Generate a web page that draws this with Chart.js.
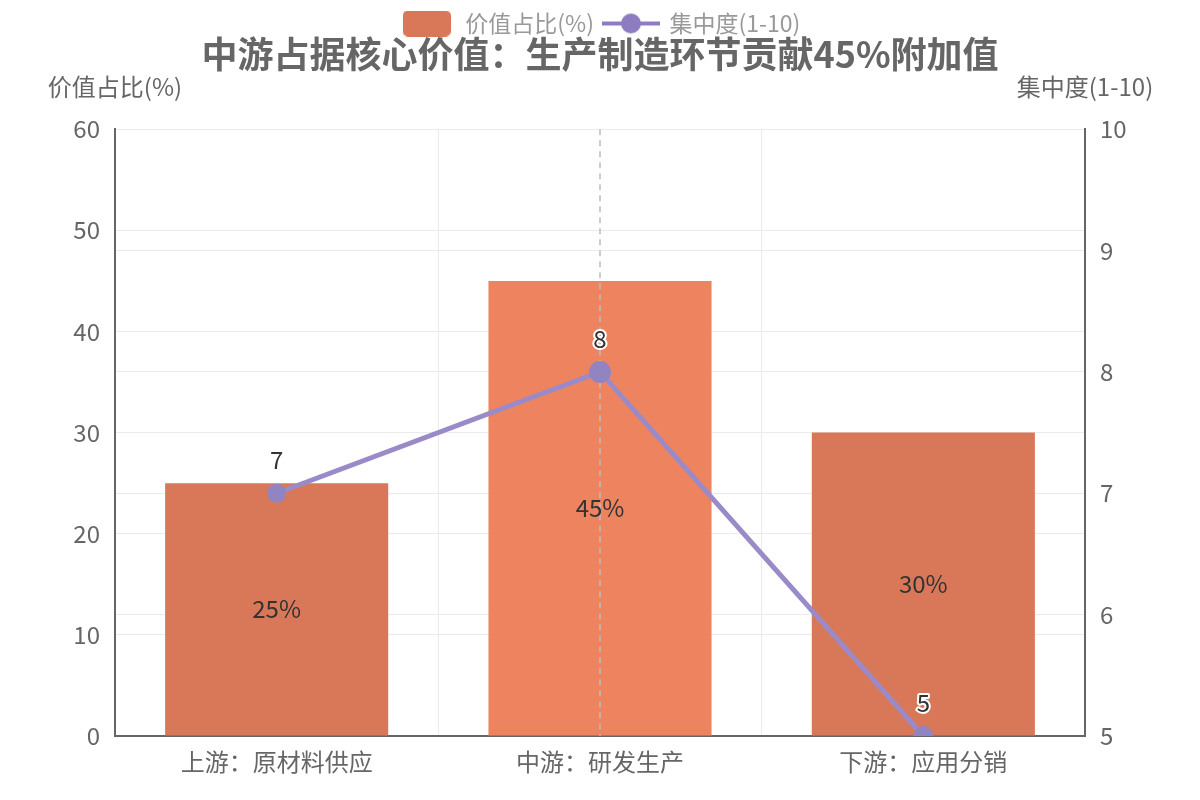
<!DOCTYPE html>
<html>
<head>
<meta charset="utf-8">
<script src="https://cdn.jsdelivr.net/npm/chart.js@4.4.0/dist/chart.umd.min.js"></script>
<style>
  html, body { margin: 0; padding: 0; background: #fff; }
</style>
</head>
<body>
<canvas id="chart" width="1200" height="800"></canvas>
<script>
const categories = ['上游：原材料供应', '中游：研发生产', '下游：应用分销'];
const valueShare = [25, 45, 30];
const concentration = [7, 8, 5];
const leftAxisRange = [0, 60, 10];
const rightAxisRange = [5, 10, 1];

const FONT = '"Noto Sans CJK SC", "Noto Sans", sans-serif';
Chart.defaults.font.family = FONT;

// legend icons
function makeIcon(w, h, draw) {
    const c = document.createElement('canvas');
    c.width = w; c.height = h;
    draw(c.getContext('2d'));
    return c;
}
const barIcon = makeIcon(48, 26, function(g) {
    g.fillStyle = '#d97858';
    g.beginPath();
    g.roundRect(0, 0, 48, 26, 5);
    g.fill();
});
const lineIcon = makeIcon(58, 22, function(g) {
    g.strokeStyle = '#8e7cc0';
    g.lineWidth = 4;
    g.beginPath(); g.moveTo(0, 11); g.lineTo(58, 11); g.stroke();
    g.fillStyle = '#8e7cc0';
    g.beginPath(); g.arc(29, 11, 10, 0, Math.PI * 2); g.fill();
});

const extras = {
    id: 'extras',
    afterDatasetDraw(chart, args) {
        // dashed axis pointer on the middle category, over bars, under the line
        if (args.index !== 0) return;
        const x = chart.scales.x.getPixelForValue(1);
        const a = chart.chartArea;
        const ctx = chart.ctx;
        ctx.save();
        ctx.strokeStyle = '#bdbdbd';
        ctx.lineWidth = 1.5;
        ctx.setLineDash([6, 5]);
        ctx.beginPath(); ctx.moveTo(x, a.top); ctx.lineTo(x, a.bottom); ctx.stroke();
        ctx.restore();
    },
    afterDatasetsDraw(chart) {
        const ctx = chart.ctx;
        ctx.save();
        ctx.font = '24px ' + FONT;
        ctx.textAlign = 'center';
        ctx.textBaseline = 'middle';
        chart.getDatasetMeta(0).data.forEach(function(bar, i) {
            ctx.fillStyle = '#333';
            ctx.fillText(valueShare[i] + '%', bar.x, (bar.y + bar.base) / 2);
        });
        chart.getDatasetMeta(1).data.forEach(function(pt, i) {
            ctx.lineWidth = 4;
            ctx.strokeStyle = '#fff';
            ctx.lineJoin = 'round';
            ctx.strokeText(String(concentration[i]), pt.x, pt.y - 33);
            ctx.fillStyle = '#333';
            ctx.fillText(String(concentration[i]), pt.x, pt.y - 33);
        });
        ctx.restore();
    },
    afterDraw(chart) {
        const ctx = chart.ctx;
        const a = chart.chartArea;
        ctx.save();
        ctx.font = '24px ' + FONT;
        ctx.fillStyle = '#666';
        ctx.textAlign = 'center';
        ctx.textBaseline = 'middle';
        ctx.fillText('价值占比(%)', a.left, 87);
        ctx.fillText('集中度(1-10)', a.right, 87);
        ctx.restore();
    }
};

new Chart(document.getElementById('chart').getContext('2d'), {
    type: 'bar',
    data: {
        labels: categories,
        datasets: [{
            type: 'bar',
            label: '价值占比(%)',
            data: valueShare,
            yAxisID: 'y',
            backgroundColor: ['#d97858', '#ee8360', '#d97858'],
            borderWidth: 0,
            categoryPercentage: 1,
            barPercentage: 0.69,
            order: 2
        }, {
            type: 'line',
            label: '集中度(1-10)',
            data: concentration,
            yAxisID: 'y1',
            borderColor: '#9a8bc8',
            borderWidth: 5,
            pointRadius: [9.5, 11, 10],
            pointBackgroundColor: '#9184c1',
            pointBorderWidth: 0,
            tension: 0,
            order: 1
        }]
    },
    options: {
        responsive: false,
        animation: false,
        layout: { padding: { top: 2, left: 0, right: 0, bottom: 0 } },
        plugins: {
            tooltip: { enabled: false },
            legend: {
                position: 'top',
                weight: 3000,
                labels: {
                    usePointStyle: true,
                    pointStyleWidth: 54,
                    padding: 10,
                    font: { size: 23 },
                    color: '#999',
                    generateLabels: function() {
                        return [
                            { text: '价值占比(%)', pointStyle: barIcon, fillStyle: 'transparent', strokeStyle: 'transparent', lineWidth: 0, fontColor: '#999', hidden: false, datasetIndex: 0 },
                            { text: '集中度(1-10)', pointStyle: lineIcon, fillStyle: 'transparent', strokeStyle: 'transparent', lineWidth: 0, fontColor: '#999', hidden: false, datasetIndex: 1 }
                        ];
                    }
                }
            },
            title: {
                display: true,
                text: '中游占据核心价值：生产制造环节贡献45%附加值',
                color: '#666',
                font: { size: 36, weight: 'bold' },
                padding: { top: -12, bottom: 53 }
            }
        },
        scales: {
            x: {
                grid: { color: '#ebebeb', offset: true, drawTicks: false },
                border: { color: '#666', width: 2 },
                ticks: { color: '#666', font: { size: 24 }, padding: 11 },
                afterFit: function(s) { s.height = 64; }
            },
            y: {
                position: 'left',
                min: leftAxisRange[0], max: leftAxisRange[1],
                ticks: { stepSize: leftAxisRange[2], color: '#666', font: { size: 24 }, padding: 15 },
                grid: { color: '#ebebeb', drawTicks: false },
                border: { color: '#666', width: 2 },
                afterFit: function(s) { s.width = 115; }
            },
            y1: {
                position: 'right',
                min: rightAxisRange[0], max: rightAxisRange[1],
                ticks: { stepSize: rightAxisRange[2], color: '#666', font: { size: 24 }, padding: 15 },
                grid: { color: '#ebebeb', drawTicks: false },
                border: { color: '#666', width: 2 },
                afterFit: function(s) { s.width = 115; }
            }
        }
    },
    plugins: [extras]
});
</script>
</body>
</html>
